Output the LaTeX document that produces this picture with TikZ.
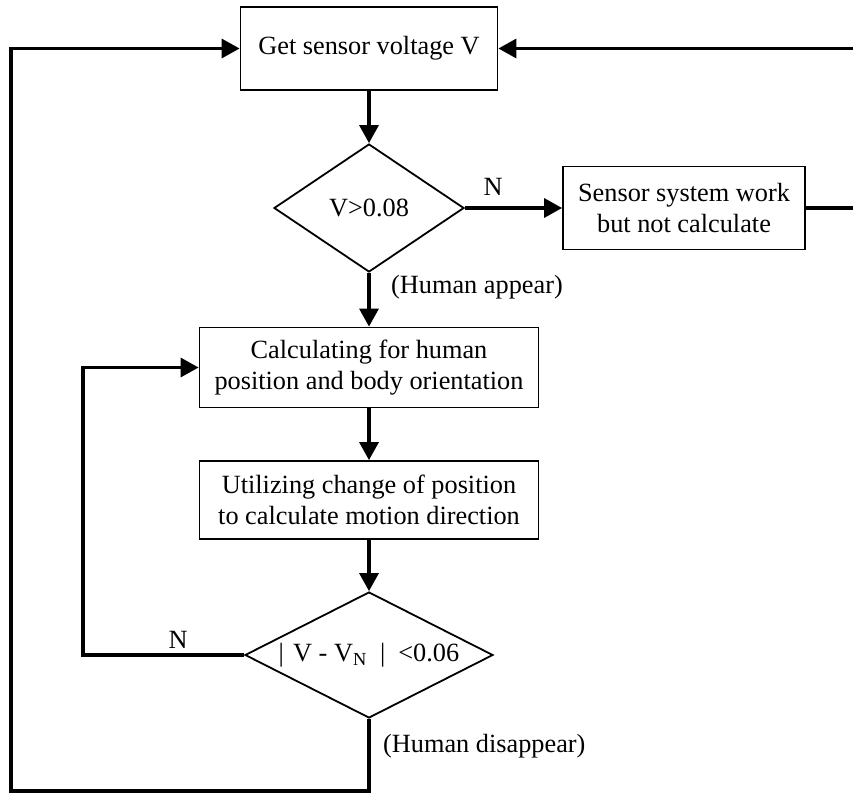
\documentclass[tikz,border=0pt]{standalone}
\usepackage{fontspec}
\setmainfont{Liberation Serif}
\usetikzlibrary{arrows.meta,shapes.geometric}
\begin{document}
\begin{tikzpicture}[x=1pt,y=-1pt,
  every node/.style={font=\fontsize{26.3}{31.5}\selectfont},
  procbox/.style={draw, line width=1.8pt, rectangle, align=center, inner sep=0pt},
  decision/.style={draw, line width=1.8pt, diamond, align=center, inner sep=0pt},
  conn/.style={line width=3.3pt, -{Triangle[length=18pt,width=19pt]}},
  lbl/.style={inner sep=0pt}]
\useasboundingbox (0,0) rectangle (853,794);
\clip (0,0) rectangle (853,794);

% process boxes and decisions
\node[procbox, minimum width=257pt, minimum height=83pt] (get) at (369,48.5) {Get sensor voltage V};
\node[decision, aspect=1.5, minimum width=190pt, minimum height=128pt] (d1) at (369,208) {V>0.08};
\node[procbox, minimum width=242pt, minimum height=83pt] (idle) at (684,208) {Sensor system work\\but not calculate};
\node[procbox, minimum width=339pt, minimum height=80pt] (calc) at (369,367.5) {Calculating for human\\position and body orientation};
\node[procbox, minimum width=339pt, minimum height=78pt] (dir) at (369,500) {Utilizing change of position\\to calculate motion direction};
\node[decision, aspect=2, minimum width=248pt, minimum height=126pt] (d2) at (369,655)
  {|\hspace{0.35em}V - V\textsubscript{N}\hspace{0.5em}|\hspace{0.5em}<0.06};

% branch labels
\node[lbl] (n1) at (493,187) {N};
\node[lbl, anchor=west] (appear) at (391,287) {(Human appear)};
\node[lbl] (n2) at (178,640) {N};
\node[lbl, anchor=west] (gone) at (383,746) {(Human disappear)};

% main flow
\draw[conn] (get.south) -- (d1.north);
\draw[conn] (d1.east) -- (idle.west);
\draw[conn] (d1.south) -- (calc.north);
\draw[conn] (calc.south) -- (dir.north);
\draw[conn] (dir.south) -- (d2.north);

% feedback loops
\draw[conn] (d2.west) -- ++(-161,0) |- (calc.west);
\coordinate (bl) at (11,791);
\draw[conn] (d2.south) |- (bl) |- (get.west);
\coordinate (rt) at (880,208);
\draw[conn] (idle.east) -- (rt) |- (get.east);
\end{tikzpicture}
\end{document}
